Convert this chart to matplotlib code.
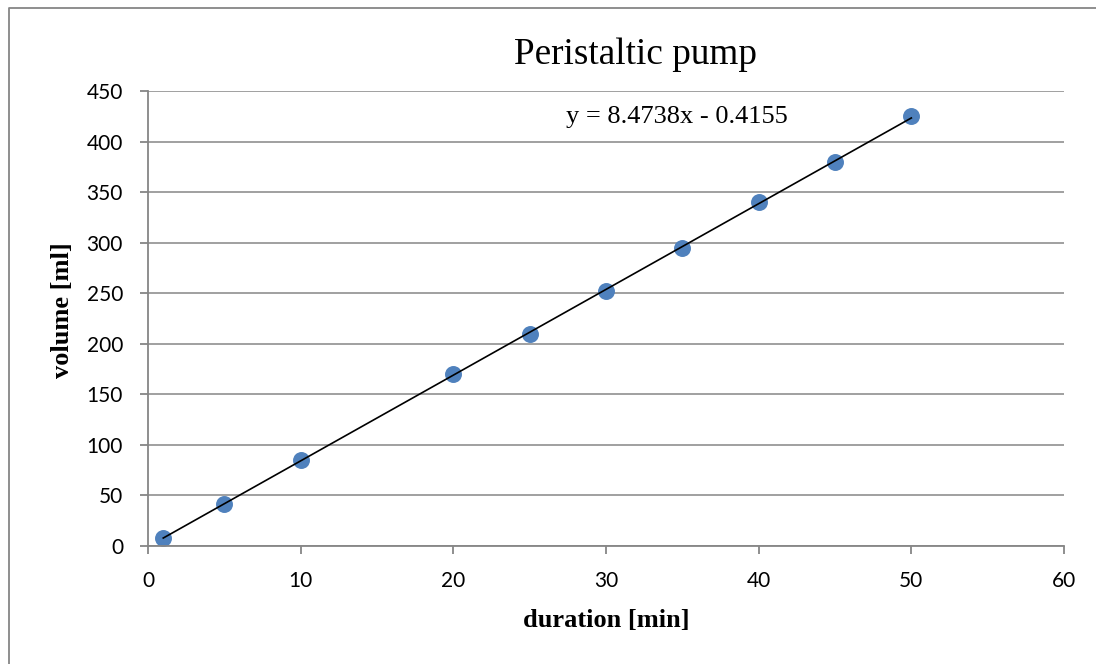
import numpy as np
import matplotlib.pyplot as plt
from matplotlib.lines import Line2D

# data
duration = [1, 5, 10, 20, 25, 30, 35, 40, 45, 50]
volume = [8, 42, 85, 170, 210, 252, 295, 340, 380, 425]
eq_text = "y = 8.4738x - 0.4155"

fig = plt.figure(figsize=(10.96, 6.64), dpi=100)
ax = fig.add_axes([148/1096, 1-546/664, (1064-148)/1096, (546-91)/664])

gray = "#868686"
ax.set_xlim(0, 60)
ax.set_ylim(0, 450)
ax.set_xticks(np.arange(0, 61, 10))
ax.set_yticks(np.arange(0, 451, 50))
ax.grid(axis="y", color=gray, lw=1.1)
ax.set_axisbelow(True)
for s in ["top", "right"]:
    ax.spines[s].set_visible(False)
for s in ["left", "bottom"]:
    ax.spines[s].set_color(gray)
    ax.spines[s].set_linewidth(1.3)
ax.tick_params(colors=gray, length=6, width=1.3, labelcolor="black", labelsize=15, pad=12)
for lab in ax.get_xticklabels() + ax.get_yticklabels():
    lab.set_family("Lato")

# linear trendline
coef = np.polyfit(duration, volume, 1)
xs = np.array([min(duration), max(duration)])
ax.plot(xs, np.polyval(coef, xs), color="black", lw=1.2, zorder=3)
ax.scatter(duration, volume, s=125, color="#4F81BD", zorder=2, clip_on=False)

fig.text(677/1096, 1-117/664, eq_text, family="Liberation Serif", fontsize=19,
         ha="center", va="center")
fig.text(636/1096, 1-55/664, "Peristaltic pump", family="Liberation Serif", fontsize=26.8,
         ha="center", va="center")
fig.text(606/1096, 1-620/664, "duration [min]", family="Liberation Serif", fontsize=19,
         fontweight="bold", ha="center", va="center")
fig.text(62/1096, 1-310/664, "volume [ml]", family="Liberation Serif", fontsize=19,
         fontweight="bold", ha="center", va="center", rotation=90)

# chart area border (only left and top edges are inside the picture)
fig.add_artist(Line2D([9/1096, 9/1096, 1], [0, 1-8/664, 1-8/664],
                      transform=fig.transFigure, color=gray, lw=1.3))

fig.savefig("out.png", dpi=100)
